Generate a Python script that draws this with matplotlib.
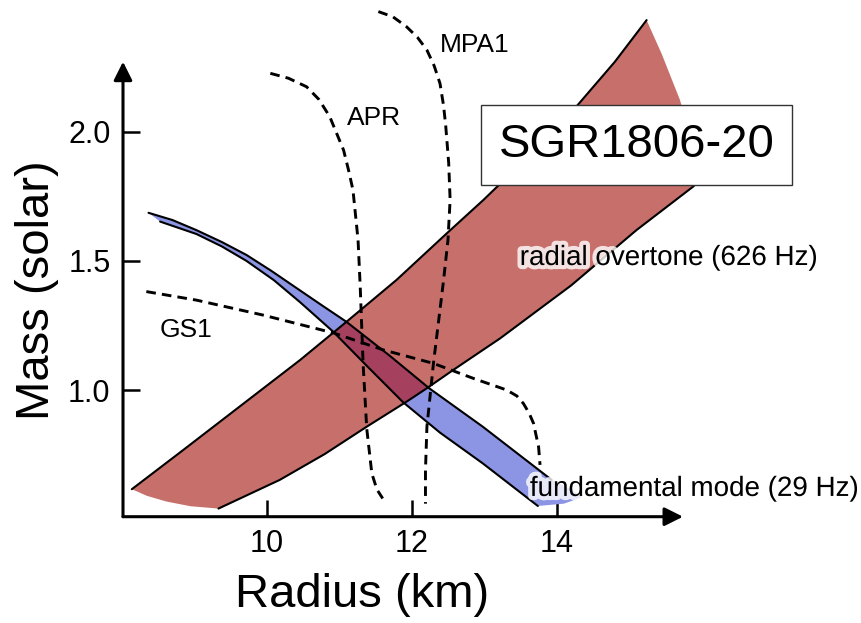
import matplotlib
matplotlib.use("Agg")
import matplotlib.pyplot as plt
import matplotlib.patheffects as pe
import numpy as np

plt.rcParams["font.family"] = ["Liberation Sans", "DejaVu Sans"]

# radial overtone band (626 Hz), radius in km / mass in solar masses
overtone_upper_r = [8.14, 8.85, 10.46, 11.10, 11.79, 12.49, 12.99, 13.65, 14.27, 14.80, 15.24]
overtone_upper_m = [0.616, 0.768, 1.116, 1.264, 1.426, 1.608, 1.736, 1.915, 2.097, 2.270, 2.432]
overtone_lower_r = [9.335, 10.18, 10.80, 11.38, 11.93, 12.21, 12.57, 13.22, 14.20, 15.10, 15.88, 16.0]
overtone_lower_m = [0.541, 0.652, 0.752, 0.858, 0.955, 1.007, 1.077, 1.200, 1.405, 1.619, 1.787, 1.82]
overtone_tip_r = [15.24, 15.45, 15.70, 16.0]
overtone_tip_m = [2.432, 2.300, 2.123, 1.82]
overtone_foot_r = [9.335, 8.95, 8.62, 8.35, 8.14]
overtone_foot_m = [0.541, 0.550, 0.568, 0.590, 0.616]

# fundamental mode band (29 Hz)
fundamental_upper_r = [8.37, 8.70, 9.03, 9.38, 9.72, 10.06, 10.41, 10.75, 11.10, 11.70, 12.24, 12.98, 13.93]
fundamental_upper_m = [1.686, 1.658, 1.619, 1.573, 1.523, 1.462, 1.395, 1.330, 1.264, 1.132, 1.007, 0.858, 0.652]
fundamental_lower_r = [8.53, 9.03, 9.38, 9.72, 10.10, 10.46, 10.92, 11.40, 11.88, 12.39, 12.98, 13.74]
fundamental_lower_m = [1.652, 1.604, 1.556, 1.500, 1.425, 1.340, 1.225, 1.088, 0.953, 0.835, 0.716, 0.551]
fundamental_end_r = [13.93, 14.20, 14.35, 14.10, 13.74]
fundamental_end_m = [0.652, 0.615, 0.585, 0.560, 0.551]

# equations of state (dashed)
apr_r = [10.05, 10.30, 10.55, 10.72, 10.87, 10.97, 11.06, 11.13, 11.19, 11.26, 11.29, 11.33, 11.38, 11.45, 11.52, 11.60]
apr_m = [2.226, 2.207, 2.174, 2.125, 2.058, 1.990, 1.929, 1.850, 1.774, 1.581, 1.400, 1.100, 0.850, 0.677, 0.615, 0.580]
mpa1_r = [11.54, 11.74, 11.93, 12.08, 12.21, 12.31, 12.39, 12.44, 12.47, 12.51, 12.53, 12.50, 12.44, 12.30, 12.21, 12.19, 12.19]
mpa1_m = [2.465, 2.445, 2.406, 2.365, 2.316, 2.255, 2.187, 2.100, 2.020, 1.880, 1.736, 1.580, 1.426, 1.103, 0.858, 0.690, 0.560]
gs1_r = [8.34, 9.03, 9.95, 10.92, 11.61, 12.30, 12.85, 13.31, 13.45, 13.54, 13.62, 13.68, 13.75, 13.77]
gs1_m = [1.381, 1.348, 1.290, 1.221, 1.155, 1.103, 1.045, 1.000, 0.977, 0.948, 0.910, 0.871, 0.780, 0.710]

x_ticks = [10, 12, 14]
x_ticklabels = ["10", "12", "14"]
y_ticks = [1.0, 1.5, 2.0]
y_ticklabels = ["1.0", "1.5", "2.0"]

RED = "#c7706b"
BLUE = "#8b95e3"
OVERLAP = "#a5415f"

fig = plt.figure(figsize=(8.61, 6.23), dpi=100)
ax = fig.add_axes([123 / 861, (623 - 516.7) / 623, (683 - 123) / 861, (516.7 - 61.7) / 623])
ax.set_xlim(8.018, 15.742)
ax.set_ylim(0.5095, 2.271)
for s in ax.spines.values():
    s.set_visible(False)

# bands
red_r = np.concatenate([overtone_upper_r, overtone_tip_r, overtone_lower_r[::-1], overtone_foot_r])
red_m = np.concatenate([overtone_upper_m, overtone_tip_m, overtone_lower_m[::-1], overtone_foot_m])
red_patch = ax.fill(red_r, red_m, color=RED, lw=0, zorder=1, clip_on=False)[0]

blue_r = np.concatenate([fundamental_upper_r, fundamental_end_r, fundamental_lower_r[::-1]])
blue_m = np.concatenate([fundamental_upper_m, fundamental_end_m, fundamental_lower_m[::-1]])
ax.fill(blue_r, blue_m, color=BLUE, lw=0, zorder=2, clip_on=False)
overlap = ax.fill(blue_r, blue_m, color=OVERLAP, lw=0, zorder=3)[0]
overlap.set_clip_path(red_patch)

for r, m in [(overtone_upper_r, overtone_upper_m), (overtone_lower_r, overtone_lower_m),
             (fundamental_upper_r, fundamental_upper_m), (fundamental_lower_r, fundamental_lower_m)]:
    ax.plot(r, m, color="black", lw=1.5, zorder=4, clip_on=False,
            solid_capstyle="round", solid_joinstyle="round")

for r, m in [(apr_r, apr_m), (mpa1_r, mpa1_m), (gs1_r, gs1_m)]:
    ax.plot(r, m, color="black", lw=2.1, ls=(0, (3.3, 2.1)), zorder=5, clip_on=False,
            dash_joinstyle="round")

# labels on the plot
ax.text(11.11, 2.053, "APR", fontsize=19, va="center", ha="left", zorder=6)
ax.text(12.39, 2.336, "MPA1", fontsize=19, va="center", ha="left", zorder=6)
ax.text(8.53, 1.232, "GS1", fontsize=19, va="center", ha="left", zorder=6)
glow = [pe.withStroke(linewidth=6, foreground="white", alpha=0.8)]
ax.text(13.49, 1.511, "radial overtone (626 Hz)", fontsize=20, va="center", ha="left",
        zorder=6, path_effects=glow)
ax.text(13.63, 0.617, "fundamental mode (29 Hz)", fontsize=20, va="center", ha="left",
        zorder=6, path_effects=glow)
ax.text(15.10, 1.948, "SGR1806-20", fontsize=34, va="center", ha="center", zorder=7,
        bbox=dict(boxstyle="square,pad=0.38", facecolor="white", edgecolor="#333333", lw=1.0))

# axes with arrow heads
for tip in [(1, 0), (0, 1)]:
    ax.annotate("", xy=tip, xytext=(0, 0), xycoords="axes fraction", annotation_clip=False,
                arrowprops=dict(arrowstyle="-|>", lw=2.2, color="black", mutation_scale=28,
                                shrinkA=0, shrinkB=0), zorder=8)

ax.set_xticks(x_ticks)
ax.set_xticklabels(x_ticklabels)
ax.set_yticks(y_ticks)
ax.set_yticklabels(y_ticklabels)
ax.tick_params(direction="in", length=12, width=1.8, labelsize=22, pad=9)

fig.text(362 / 861, 1 - 595 / 623, "Radius (km)", fontsize=34, ha="center", va="center")
fig.text(37 / 861, 1 - 290 / 623, "Mass (solar)", fontsize=34, ha="center", va="center",
         rotation=90)

fig.savefig("out.png", dpi=100)
